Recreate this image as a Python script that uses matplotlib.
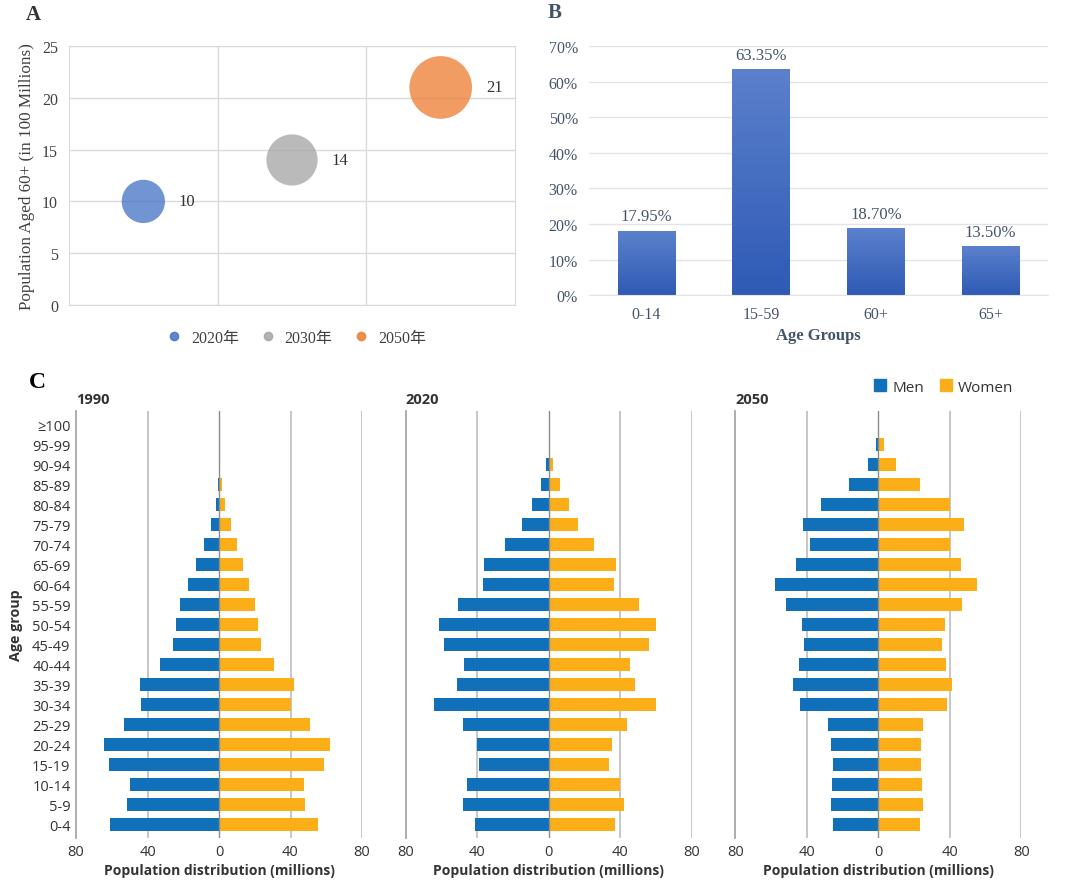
import numpy as np
import matplotlib
matplotlib.use("Agg")
import matplotlib.pyplot as plt
from matplotlib.patches import Patch
from matplotlib.lines import Line2D

# ---- data ----
# panel A: population aged 60+ (100 millions)
years_a = ['2020年', '2030年', '2050年']
pop60 = [10, 14, 21]

# panel B: share of age groups
age_groups_b = ['0-14', '15-59', '60+', '65+']
shares = [17.95, 63.35, 18.70, 13.50]

# panel C: population pyramids (millions)
age_labels = ['0-4', '5-9', '10-14', '15-19', '20-24', '25-29', '30-34', '35-39',
              '40-44', '45-49', '50-54', '55-59', '60-64', '65-69', '70-74',
              '75-79', '80-84', '85-89', '90-94', '95-99', '≥100']
pyr_years = ['1990', '2020', '2050']
men_1990 = [60.8, 51.5, 50.0, 61.4, 64.2, 53.4, 43.5, 44.4, 33.0, 25.7, 23.9, 21.6,
            17.2, 12.7, 8.2, 4.5, 1.9, 0.75, 0.2, 0.05, 0.0]
women_1990 = [55.6, 48.1, 47.4, 58.8, 61.9, 50.9, 40.5, 42.0, 30.6, 23.5, 21.8, 20.1,
              16.8, 13.6, 9.9, 6.5, 3.5, 1.5, 0.3, 0.05, 0.0]
men_2020 = [41.0, 48.1, 45.7, 39.0, 39.9, 48.1, 64.0, 51.1, 47.6, 58.4, 61.4, 50.9,
            36.9, 36.4, 24.3, 14.7, 9.1, 4.5, 1.3, 0.1, 0.0]
women_2020 = [36.9, 42.4, 39.7, 33.8, 35.3, 43.8, 60.3, 48.1, 45.3, 56.2, 60.1, 50.6,
              36.6, 37.7, 25.6, 16.6, 11.4, 6.5, 2.4, 0.4, 0.05]
men_2050 = [25.2, 26.7, 26.1, 25.6, 26.3, 28.4, 43.7, 47.6, 44.4, 41.4, 42.5, 51.5,
            57.6, 46.3, 38.1, 42.0, 32.1, 16.2, 5.6, 1.3, 0.1]
women_2050 = [23.5, 24.8, 24.3, 23.7, 23.9, 25.2, 38.2, 41.0, 37.9, 35.4, 37.3, 46.8,
              55.0, 46.5, 40.1, 47.8, 39.9, 23.1, 10.1, 3.4, 0.3]
men_all = [men_1990, men_2020, men_2050]
women_all = [women_1990, women_2020, women_2050]

serif = ['Liberation Serif', 'Noto Sans CJK SC', 'DejaVu Sans']
sans = ['Open Sans', 'DejaVu Sans']

fig = plt.figure(figsize=(10.65, 8.87), dpi=100)

# ================= Panel A =================
axA = fig.add_axes([0.0648, 0.655, 0.4188, 0.292])
bub_colors = ['#4472C4', '#A5A5A5', '#ED7D31']
xpos = np.arange(1, len(pop60) + 1)
size_scale = 97.0
for x, v, c in zip(xpos, pop60, bub_colors):
    axA.scatter(x, v, s=v * size_scale, color=c, alpha=0.76, edgecolors='none', zorder=3)
    r_pt = np.sqrt(v * size_scale) / 2
    axA.annotate(str(v), (x, v), xytext=(r_pt + 10, 0), textcoords='offset points',
                 ha='left', va='center', fontsize=12, family=serif, color='#333333')
axA.set_xlim(0.5, len(pop60) + 0.5)
axA.set_ylim(0, 25)
axA.set_yticks(np.arange(0, 26, 5))
axA.set_xticks([1.5, 2.5])
axA.set_xticklabels([])
axA.tick_params(length=0, labelsize=11.5, colors='#404040', pad=8)
for lab in axA.get_yticklabels():
    lab.set_family(serif)
axA.grid(True, color='#D9D9D9', linewidth=1)
for s in axA.spines.values():
    s.set_color('#D9D9D9')
axA.set_ylabel('Population Aged 60+ (in 100 Millions)', fontsize=12.3, family=serif,
               color='#404040', labelpad=5)
handlesA = [Line2D([], [], marker='o', linestyle='none', markersize=6, color=c, alpha=0.85)
            for c in bub_colors]
axA.legend(handlesA, years_a, loc='upper center', bbox_to_anchor=(0.5, -0.04), ncol=3,
           frameon=False, handletextpad=0.05, columnspacing=0.8,
           prop={'family': serif, 'size': 11.5}, labelcolor='#404040')
fig.text(0.024, 0.983, 'A', fontsize=15, fontweight='bold', family=serif, color='#333333',
         ha='left', va='center')

# ================= Panel B =================
axB = fig.add_axes([0.553, 0.666, 0.431, 0.281])
xb = np.arange(len(shares))
bars = axB.bar(xb, shares, width=0.5, color='none', linewidth=0, zorder=3)
grad = np.linspace(0, 1, 100).reshape(-1, 1)
cmap = matplotlib.colors.LinearSegmentedColormap.from_list('g', ['#2F5BB5', '#5B80CC'])
for b in bars:
    x0, w, h = b.get_x(), b.get_width(), b.get_height()
    axB.imshow(grad, extent=(x0, x0 + w, 0, h), origin='lower', aspect='auto',
               cmap=cmap, zorder=2, interpolation='bilinear')
    axB.annotate(f'{h:.2f}%', (x0 + w / 2, h), xytext=(0, 5), textcoords='offset points',
                 ha='center', va='bottom', fontsize=12, family=serif, color='#44546A')
axB.set_xlim(-0.5, len(shares) - 0.5)
axB.set_ylim(0, 70)
axB.set_yticks(np.arange(0, 71, 10))
axB.set_yticklabels([f'{t}%' for t in range(0, 71, 10)])
axB.set_xticks(xb)
axB.set_xticklabels(age_groups_b)
axB.tick_params(length=0, labelsize=11.5, colors='#44546A', pad=8)
for lab in axB.get_yticklabels() + axB.get_xticklabels():
    lab.set_family(serif)
axB.grid(True, axis='y', color='#E3E3E8', linewidth=1, zorder=0)
axB.set_axisbelow(True)
for s in ['top', 'right', 'left']:
    axB.spines[s].set_visible(False)
axB.spines['bottom'].set_color('#E3E3E8')
axB.set_xlabel('Age Groups', fontsize=12, fontweight='bold', family=serif,
               color='#44546A', labelpad=3)
fig.text(0.514, 0.985, 'B', fontsize=15, fontweight='bold', family=serif, color='#44546A',
         ha='left', va='center')

# ================= Panel C =================
men_color = '#1170BA'
women_color = '#FBAE17'
axes_left = [76 / 1065, 405.7 / 1065, 735.3 / 1065]
yrows = np.arange(len(age_labels))
for i, ax_l in enumerate(axes_left):
    ax = fig.add_axes([ax_l, 0.054, 286 / 1065, 0.4815])
    ax.barh(yrows, [-m for m in men_all[i]], height=0.67, color=men_color, zorder=3,
            label='Men')
    ax.barh(yrows, women_all[i], height=0.67, color=women_color, zorder=3, label='Women')
    for xv in [-40, 40, 80]:
        ax.axvline(xv, color='#BDBDBD', linewidth=1.2, zorder=1)
    ax.axvline(0, color='#8C8C8C', linewidth=1.0, zorder=4)
    ax.set_xlim(-80, 80)
    ax.set_ylim(-0.67, len(age_labels) - 0.32)
    ax.set_xticks([-80, -40, 0, 40, 80])
    ax.set_xticklabels(['80', '40', '0', '40', '80'])
    for s in ['top', 'right', 'bottom']:
        ax.spines[s].set_visible(False)
    ax.spines['left'].set_color('#9E9E9E')
    ax.spines['left'].set_linewidth(1.2)
    ax.tick_params(length=0, labelsize=10.5, colors='#333333', pad=4)
    ax.set_yticks(yrows)
    if i == 0:
        ax.set_yticklabels(age_labels)
        ax.set_ylabel('Age group', fontsize=10.3, fontweight='bold', color='#333333',
                      family=sans, labelpad=6)
    else:
        ax.set_yticklabels([])
    for lab in ax.get_xticklabels() + ax.get_yticklabels():
        lab.set_family(sans)
    ax.set_xlabel('Population distribution (millions)', fontsize=10, fontweight='bold',
                  color='#333333', family=sans, labelpad=3)
    ax.set_title(pyr_years[i], loc='left', fontsize=10.5, fontweight='bold', color='#333333',
                 family=sans, pad=6)

handlesC = [Patch(color=men_color), Patch(color=women_color)]
fig.legend(handlesC, ['Men', 'Women'], loc='center right',
           bbox_to_anchor=(1027 / 1065, 1 - 388 / 887), ncol=2, frameon=False,
           handlelength=0.8, handleheight=0.8, handletextpad=0.4, columnspacing=1.0,
           prop={'family': sans, 'size': 11}, labelcolor='#333333')
fig.text(0.027, 0.569, 'C', fontsize=17, fontweight='bold', family=serif, color='black',
         ha='left', va='center')

fig.savefig('out.png', dpi=100)
